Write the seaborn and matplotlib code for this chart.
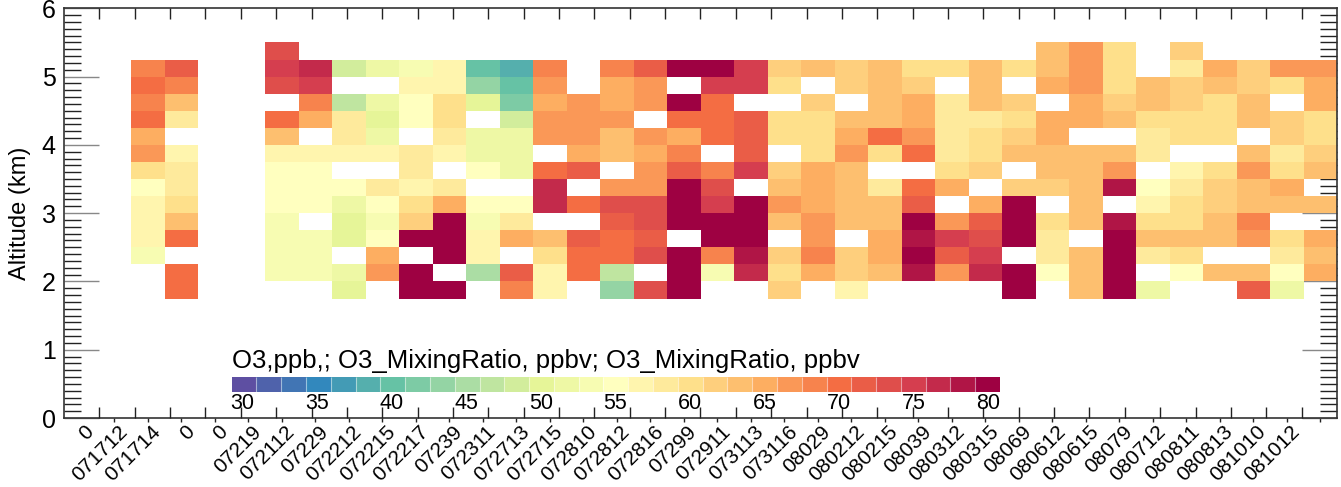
import numpy as np
import pandas as pd
import matplotlib
matplotlib.use("Agg")
import matplotlib.pyplot as plt
from matplotlib.colors import BoundaryNorm
import seaborn as sns

nan = np.nan

# flight dates (column labels); "0" = no profile
dates = ['0', '071712', '071714', '0', '0', '07219', '072112', '07229', '072212',
         '072215', '072217', '07239', '072311', '072713', '072715', '072810',
         '072812', '072816', '07299', '072911', '073113', '073116', '08029',
         '080212', '080215', '08039', '080312', '080315', '08069', '080612',
         '080615', '08079', '080712', '080811', '080813', '081010', '081012']

# lower edge of each 0.25 km altitude bin
alt_lower = [1.75, 2.0, 2.25, 2.5, 2.75, 3.0, 3.25, 3.5, 3.75, 4.0, 4.25, 4.5, 4.75, 5.0, 5.25]
dz = 0.25

# O3 (ppbv) per flight, bottom bin -> top bin
o3_cols = [
    [nan] * 15,
    [nan, nan, 53.6, 56.9, 56.9, 56.9, 55.2, 60.2, 66.8, 65.2, 70.1, 68.5, 70.1, 68.5, nan],
    [70.1, 70.1, nan, 70.1, 63.5, 60.2, 58.5, 58.5, 56.9, nan, 58.5, 63.5, 68.5, 71.8, nan],
    [nan] * 15,
    [nan] * 15,
    [nan, 53.6, 53.6, 53.6, 53.6, 55.2, 55.2, 55.2, 56.9, 63.5, 70.1, nan, 73.4, 75.1, 73.4],
    [nan, 53.6, 53.6, 53.6, nan, 55.2, 55.2, 55.2, 56.9, nan, 65.2, 68.5, 75.1, 76.7, nan],
    [50.3, 51.9, nan, 50.3, 50.3, 51.9, 55.2, nan, 56.9, 58.5, 58.5, 47.0, nan, 48.6, nan],
    [nan, 66.8, 65.2, 55.2, 53.6, 55.2, 58.5, nan, 56.9, 51.9, 50.3, 51.9, nan, 51.9, nan],
    [80.0, 80.0, nan, 80.0, 61.8, 60.2, 56.9, 58.5, 58.5, nan, 55.2, 55.2, 56.9, 53.6, nan],
    [80.0, nan, 80.0, 80.0, 80.0, 65.2, 58.5, nan, 56.9, 58.5, 60.2, 60.2, 56.9, 56.9, nan],
    [nan, 45.3, 56.9, 56.9, 53.6, 55.2, nan, 55.2, 51.9, 51.9, nan, 50.3, 43.6, 40.3, nan],
    [68.5, 71.8, nan, 65.2, 58.5, 55.2, nan, 51.9, 51.9, 51.9, 48.6, 42.0, 40.3, 38.7, nan],
    [56.9, 56.9, 60.2, 63.5, nan, 76.7, 76.7, 70.1, nan, 66.8, 66.8, 65.2, 66.8, 68.5, nan],
    [nan, 70.1, 70.1, 71.8, nan, 70.1, nan, 71.8, 65.2, 66.8, 66.8, 66.8, nan, nan, nan],
    [43.6, 47.0, 70.1, 70.1, 71.8, 73.4, 66.8, nan, 63.5, 63.5, 66.8, 65.2, 65.2, 68.5, nan],
    [73.4, nan, 73.4, 71.8, 73.4, 73.4, 66.8, 66.8, 65.2, 66.8, nan, 66.8, 66.8, 71.8, nan],
    [80.0, 80.0, 80.0, nan, 80.0, 80.0, 80.0, 71.8, 68.5, 65.2, 70.1, 80.0, nan, 80.0, nan],
    [nan, 53.6, 68.5, 80.0, 80.0, 75.1, 73.4, 68.5, nan, 70.1, 70.1, 70.1, 75.1, 80.0, nan],
    [nan, 76.7, 78.4, 80.0, 80.0, 80.0, nan, 75.1, 71.8, 71.8, 71.8, nan, 75.1, 75.1, nan],
    [61.8, 60.2, 61.8, nan, 63.5, 66.8, 63.5, 61.8, nan, 60.2, 60.2, nan, 60.2, 61.8, nan],
    [nan, 65.2, 68.5, 66.8, 66.8, 65.2, 65.2, 65.2, 60.2, 60.2, 60.2, 61.8, nan, 63.5, nan],
    [56.9, 61.8, 61.8, nan, 63.5, 63.5, 63.5, 63.5, 66.8, 65.2, 63.5, nan, 61.8, 61.8, nan],
    [nan, 63.5, 65.2, 65.2, 63.5, 63.5, 58.5, nan, 60.2, 70.1, 63.5, 63.5, 63.5, 63.5, nan],
    [nan, 78.4, 80.0, 78.4, 80.0, 71.8, 70.1, nan, 70.1, 66.8, 65.2, 65.2, 61.8, 60.2, nan],
    [nan, 66.8, 71.8, 75.1, 66.8, nan, 65.2, 60.2, 58.5, 58.5, 58.5, 58.5, nan, 60.2, nan],
    [nan, 76.7, 75.1, 73.4, 71.8, 65.2, nan, 61.8, 60.2, 60.2, 58.5, 63.5, 63.5, 63.5, nan],
    [80.0, 80.0, nan, 80.0, 80.0, 80.0, 61.8, nan, 63.5, 61.8, 60.2, 61.8, nan, 60.2, nan],
    [nan, 55.2, 58.5, 58.5, 60.2, nan, 61.8, 63.5, 63.5, 65.2, 65.2, nan, 65.2, 63.5, 63.5],
    [63.5, 63.5, 63.5, nan, 63.5, 63.5, 63.5, 63.5, 63.5, nan, 65.2, 65.2, 66.8, 66.8, 66.8],
    [80.0, 80.0, 80.0, 80.0, 78.4, nan, 78.4, 66.8, 63.5, nan, 63.5, 61.8, 60.2, 60.2, 60.2],
    [51.9, nan, 58.5, 63.5, 60.2, 56.9, 55.2, nan, 58.5, 58.5, 60.2, 63.5, 63.5, nan, nan],
    [nan, 55.2, 60.2, 63.5, 60.2, 60.2, 58.5, 56.9, nan, 60.2, 60.2, 61.8, 61.8, 58.5, 61.8],
    [nan, 63.5, nan, 63.5, 63.5, 61.8, 61.8, 60.2, nan, 60.2, 60.2, 60.2, 63.5, 65.2, nan],
    [71.8, 63.5, nan, 66.8, 68.5, 63.5, 63.5, 66.8, 63.5, nan, 63.5, 63.5, 61.8, 61.8, nan],
    [51.9, 55.2, 58.5, 60.2, nan, 63.5, 65.2, 60.2, 58.5, 61.8, 61.8, nan, 60.2, 66.8, nan],
    [nan, 65.2, 63.5, 65.2, nan, 63.5, nan, 63.5, 61.8, 60.2, 60.2, 65.2, 65.2, 66.8, nan],
]

cbar_ticks = [30, 35, 40, 45, 50, 55, 60, 65, 70, 75, 80]
cbar_label = "O3,ppb,; O3_MixingRatio, ppbv; O3_MixingRatio, ppbv"

sns.set_style("white")
plt.rcParams['font.family'] = ['Liberation Sans', 'DejaVu Sans']
plt.rcParams['text.color'] = 'black'
plt.rcParams['axes.labelcolor'] = 'black'

# discrete Spectral colour scale, 31 levels
n_lev = 31
cmap = plt.get_cmap('Spectral_r', n_lev)
norm = BoundaryNorm(np.linspace(29.27, 80.8, n_lev + 1), n_lev)

df = pd.DataFrame(np.array(o3_cols, dtype=float).T, index=alt_lower, columns=dates)

W, H = 1341, 487
fig = plt.figure(figsize=(W / 100, H / 100), dpi=100)
pos = [64 / W, 1 - 418 / H, 1273 / W, (418 - 8.3) / H]
ax = fig.add_axes(pos)

sns.heatmap(df, ax=ax, cmap=cmap, norm=norm, cbar=False,
            xticklabels=False, yticklabels=False, linewidths=0)
mesh = ax.collections[0]

# heatmap works in cell units: map them back to km / flight index
to_row = lambda km: (km - alt_lower[0]) / dz
ax.set_xlim(-1, len(dates))
ax.set_ylim(to_row(0), to_row(6))
for s in ax.spines.values():
    s.set_visible(True)
    s.set_color('#333333')
    s.set_linewidth(1.2)

ax.set_yticks([to_row(k) for k in range(7)], [str(k) for k in range(7)], fontsize=18)
ax.set_yticks([to_row(k / 10) for k in range(61)], minor=True)
ax.tick_params(axis='y', which='both', direction='in', left=True, right=True, pad=6,
               labelcolor='black')
ax.tick_params(axis='y', which='major', length=25, width=1.0, color='#888888')
ax.tick_params(axis='y', which='minor', length=12, width=1.0, color='#222222')
ax.set_ylabel('Altitude (km)', fontsize=17, labelpad=8)

ax.set_xticks(np.arange(len(dates)), dates, rotation=45, ha='right', fontsize=15)
ax.set_xticks(np.arange(len(dates)) + 0.5, minor=True)
ax.tick_params(axis='x', which='major', length=0, pad=3, top=False, labelcolor='black')
ax.tick_params(axis='x', which='minor', direction='out', length=3, width=1.0,
               bottom=True, top=False, color='#222222')
ax.set_xlabel('')

# frame ticks along top and bottom
axt = fig.add_axes(pos, frameon=False)
axt.set_xlim(-1, 35)
axt.set_xticks(range(35))
axt.set_yticks([])
axt.tick_params(axis='x', direction='in', top=True, bottom=True, length=8, width=1.0,
                color='#222222', labelbottom=False)
axt.patch.set_visible(False)

# horizontal colour bar inside the plot
cax = fig.add_axes([231.7 / W, 1 - 391.7 / H, 768.3 / W, 15 / H])
cbar = fig.colorbar(mesh, cax=cax, orientation='horizontal', ticks=cbar_ticks, drawedges=True)
cbar.minorticks_off()
cbar.outline.set_visible(False)
cbar.dividers.set_color('white')
cbar.dividers.set_linewidth(0.8)
cbar.dividers.set_alpha(0.5)
cax.tick_params(which='both', length=0, pad=1, labelsize=15.5, labelcolor='black')
cax.xaxis.set_label_position('top')
cax.set_xlabel(cbar_label, loc='left', fontsize=18.5, labelpad=6)

fig.savefig('out.png', dpi=100)
